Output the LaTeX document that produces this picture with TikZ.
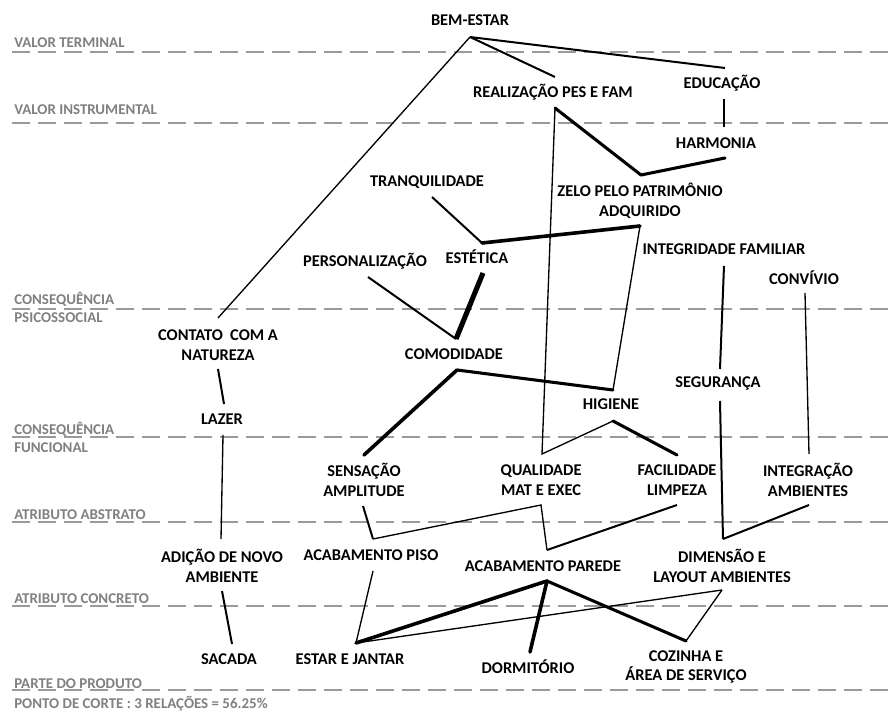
\documentclass[tikz,border=0pt]{standalone}
\usepackage{fontspec}
\setmainfont{Carlito}
\definecolor{levelgray}{HTML}{808080}
\definecolor{dashgray}{HTML}{9A9A9A}
\begin{document}
\begin{tikzpicture}[x=0.75pt,y=-0.75pt,
  concept/.style={font=\bfseries\fontsize{12.3}{14.6}\selectfont, align=center, inner sep=0pt},
  level/.style={font=\bfseries\fontsize{11.2}{13.4}\selectfont, text=levelgray, anchor=base west, inner sep=0pt},
  layer/.style={draw=dashgray, line width=1.5pt, dash pattern=on 13.5pt off 6pt},
  w1/.style={line width=1pt},
  w2/.style={line width=1.5pt},
  w3/.style={line width=2.3pt, line cap=round},
  w4/.style={line width=2.7pt, line cap=round},
  w5/.style={line width=3.8pt}]
\useasboundingbox (0,0) rectangle (890,713);

% level separators
\foreach \yy in {52,123,309,437,522,606,690}
  \draw[layer] (12,\yy) -- (890,\yy);

% level labels
\node[level] (lvt) at (14,48) {VALOR TERMINAL};
\node[level] (lvi) at (14,115) {VALOR INSTRUMENTAL};
\node[level] (lcp1) at (14,305) {CONSEQUÊNCIA};
\node[level] (lcp2) at (14,323) {PSICOSSOCIAL};
\node[level] (lcf1) at (14,434) {CONSEQUÊNCIA};
\node[level] (lcf2) at (14,452) {FUNCIONAL};
\node[level] (laa) at (14,519) {ATRIBUTO ABSTRATO};
\node[level] (lac) at (14,603) {ATRIBUTO CONCRETO};
\node[level] (lpp) at (14,688) {PARTE DO PRODUTO};
\node[level] (lcut) at (14,708) {PONTO DE CORTE : 3 RELAÇÕES = 56.25\%};

% concepts
\node[concept] (bem) at (470,20) {BEM-ESTAR};
\node[concept] (real) at (553,92) {REALIZAÇÃO PES E FAM};
\node[concept] (educ) at (722,83) {EDUCAÇÃO};
\node[concept] (harm) at (716,143) {HARMONIA};
\node[concept] (tranq) at (427,182) {TRANQUILIDADE};
\node[concept] (zelo) at (640,201) {ZELO PELO PATRIMÔNIO\\ADQUIRIDO};
\node[concept] (pers) at (365,261) {PERSONALIZAÇÃO};
\node[concept] (est) at (477,257) {ESTÉTICA};
\node[concept] (integ) at (724,249) {INTEGRIDADE FAMILIAR};
\node[concept] (conv) at (804,278) {CONVÍVIO};
\node[concept] (cont) at (218,345) {CONTATO~~COM A\\NATUREZA};
\node[concept] (comod) at (454,354) {COMODIDADE};
\node[concept] (lazer) at (222,419) {LAZER};
\node[concept] (seg) at (718,384) {SEGURANÇA};
\node[concept] (hig) at (611,404) {HIGIENE};
\node[concept] (sens) at (364,480) {SENSAÇÃO\\AMPLITUDE};
\node[concept] (qual) at (541,480) {QUALIDADE\\MAT E EXEC};
\node[concept] (facil) at (677,480) {FACILIDADE\\LIMPEZA};
\node[concept] (integr) at (808,480) {INTEGRAÇÃO\\AMBIENTES};
\node[concept] (adic) at (222,566) {ADIÇÃO DE NOVO\\AMBIENTE};
\node[concept] (piso) at (371,555) {ACABAMENTO PISO};
\node[concept] (parede) at (543,566) {ACABAMENTO PAREDE};
\node[concept] (dim) at (722,566) {DIMENSÃO E\\LAYOUT AMBIENTES};
\node[concept] (sacada) at (229,659) {SACADA};
\node[concept] (estar) at (350,659) {ESTAR E JANTAR};
\node[concept] (dorm) at (528,667) {DORMITÓRIO};
\node[concept] (coz) at (686,667) {COZINHA E\\ÁREA DE SERVIÇO};

% attachment points of the links
\coordinate (bem-s) at (470,37);
\coordinate (educ-n) at (725,68);
\coordinate (educ-s) at (724,99);
\coordinate (harm-n) at (724,127);
\coordinate (harm-s) at (725,158);
\coordinate (real-n) at (555,77);
\coordinate (real-s) at (555,108);
\coordinate (zelo-n) at (641,175);
\coordinate (zelo-s) at (640,226);
\coordinate (tranq-s) at (432,197);
\coordinate (est-n) at (482,243);
\coordinate (est-s) at (483,273);
\coordinate (pers-s) at (368,277);
\coordinate (comod-n) at (456,339);
\coordinate (comod-s) at (457,370);
\coordinate (cont-n) at (218,318);
\coordinate (cont-s) at (218,369);
\coordinate (lazer-n) at (224,404);
\coordinate (lazer-s) at (223,435);
\coordinate (hig-n) at (613,390);
\coordinate (hig-s) at (613,421);
\coordinate (integ-s) at (724,266);
\coordinate (seg-n) at (720,369);
\coordinate (seg-s) at (720,401);
\coordinate (conv-s) at (805,293);
\coordinate (integr-n) at (809,454);
\coordinate (integr-s) at (809,505);
\coordinate (sens-n) at (364,455);
\coordinate (sens-s) at (363,506);
\coordinate (qual-n) at (542,454);
\coordinate (qual-s) at (541,505);
\coordinate (facil-n) at (677,455);
\coordinate (facil-s) at (677,505);
\coordinate (adic-n) at (221,539);
\coordinate (adic-s) at (222,591);
\coordinate (piso-n) at (373,539);
\coordinate (piso-s) at (373,571);
\coordinate (parede-n) at (547,550);
\coordinate (parede-s) at (547,581);
\coordinate (dim-n) at (723,539);
\coordinate (dim-s) at (722,590);
\coordinate (sacada-n) at (232,644);
\coordinate (estar-n) at (356,643);
\coordinate (dorm-n) at (530,652);
\coordinate (coz-n) at (686,641);

% links
\draw[w2] (bem-s) -- (educ-n);
\draw[w2] (bem-s) -- (real-n);
\draw[w1] (bem-s) -- (cont-n);
\draw[w2] (educ-s) -- (harm-n);
\draw[w3, line join=round] (real-s) -- (zelo-n) -- (harm-s);
\draw[w1] (real-s) -- (qual-n) -- (hig-s);
\draw[w3] (hig-s) -- (facil-n);
\draw[w2] (tranq-s) -- (est-n);
\draw[w4] (est-n) -- (zelo-s);
\draw[w1] (zelo-s) -- (hig-n);
\draw[w3] (hig-n) -- (comod-s);
\draw[w4] (comod-s) -- (sens-n);
\draw[w5] (est-s) -- (comod-n);
\draw[w2] (pers-s) -- (comod-n);
\draw[w2] (cont-s) -- (lazer-n);
\draw[w1] (lazer-s) -- (adic-n);
\draw[w2] (adic-s) -- (sacada-n);
\draw[w2] (integ-s) -- (seg-n);
\draw[w2] (seg-s) -- (dim-n);
\draw[w1] (conv-s) -- (integr-n);
\draw[w2] (integr-s) -- (dim-n);
\draw[w2] (sens-s) -- (piso-n);
\draw[w1] (piso-n) -- (qual-s) -- (parede-n);
\draw[w2] (parede-n) -- (facil-s);
\draw[w1] (piso-s) -- (estar-n);
\draw[w4] (estar-n) -- (parede-s);
\draw[w1] (estar-n) -- (dim-s);
\draw[w4] (parede-s) -- (dorm-n);
\draw[w3] (parede-s) -- (coz-n);
\draw[w1] (coz-n) -- (dim-s);
\end{tikzpicture}
\end{document}
